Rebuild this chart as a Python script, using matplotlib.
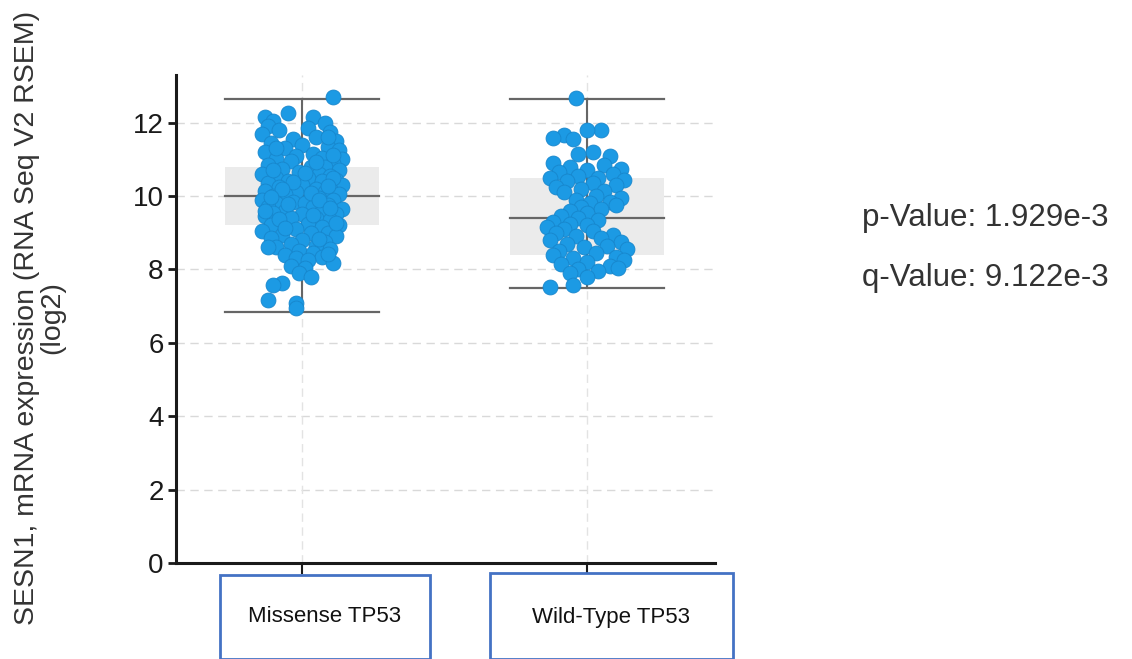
import matplotlib
matplotlib.use("Agg")
import matplotlib.pyplot as plt
from matplotlib.patches import Rectangle

plt.rcParams['font.family'] = ['Liberation Sans', 'DejaVu Sans']

categories = ["Missense TP53", "Wild-Type TP53"]

missense_values = [
    12.70, 12.26, 12.15, 12.15, 12.05, 12.00,
    11.90, 11.85, 11.80, 11.75, 11.70, 11.60, 11.55, 11.50,
    11.45, 11.40, 11.35, 11.30, 11.25, 11.20, 11.15, 11.10, 11.05, 11.00, 11.00,
    10.95, 10.90, 10.85, 10.80, 10.80, 10.75, 10.70, 10.65, 10.60, 10.60, 10.55, 10.50, 10.50,
    10.45, 10.40, 10.40, 10.35, 10.30, 10.30, 10.25, 10.20, 10.20, 10.15, 10.10, 10.10, 10.05, 10.05, 10.00, 10.00,
    9.95, 9.90, 9.90, 9.85, 9.80, 9.80, 9.75, 9.70, 9.70, 9.65, 9.60, 9.60, 9.55, 9.50, 9.50,
    9.45, 9.40, 9.40, 9.35, 9.30, 9.25, 9.20, 9.20, 9.15, 9.10, 9.05, 9.00, 9.00,
    8.95, 8.90, 8.85, 8.80, 8.75, 8.70, 8.65, 8.60, 8.55, 8.50,
    8.45, 8.40, 8.35, 8.30, 8.25, 8.17, 8.10, 8.05,
    7.90, 7.80, 7.63, 7.57, 7.17, 7.08, 6.95,
    10.72, 10.62, 10.48, 10.38, 10.28, 10.18, 10.08, 9.98, 9.88, 9.78, 9.68, 9.58, 9.48, 9.38, 9.28,
    11.62, 11.32, 11.12, 10.92, 9.12, 8.82, 8.62, 8.42,
]
missense_jitter = [
    0.11, -0.05, -0.13, 0.04, -0.10, 0.08,
    -0.12, 0.02, -0.08, 0.10, -0.14, 0.05, -0.03, 0.12,
    -0.11, 0.00, 0.09, -0.06, 0.13, -0.13, 0.04, -0.02, 0.07, -0.09, 0.14,
    -0.04, 0.11, -0.12, 0.03, 0.08, -0.07, 0.13, -0.01, -0.14, 0.06, 0.10, -0.09, 0.02,
    0.12, -0.05, 0.07, -0.12, 0.00, 0.14, -0.08, 0.05, 0.10, -0.13, -0.02, 0.08, -0.06, 0.13, 0.03, -0.10,
    0.06, -0.14, 0.11, -0.03, 0.01, -0.09, 0.09, -0.12, 0.04, 0.14, -0.06, 0.07, -0.10, 0.00, 0.12,
    -0.13, 0.05, -0.04, 0.10, -0.08, 0.02, 0.13, -0.11, 0.07, -0.02, -0.14, 0.09, 0.03,
    -0.07, 0.12, -0.11, 0.00, 0.08, -0.04, 0.05, -0.09, 0.10, -0.01,
    0.04, -0.06, 0.07, -0.02, 0.02, 0.11, -0.04, 0.01,
    -0.01, 0.03, -0.07, -0.10, -0.12, -0.02, -0.02,
    -0.10, 0.01, 0.11, -0.03, 0.09, -0.07, 0.03, -0.11, 0.06, -0.05, 0.10, -0.13, 0.04, -0.08, 0.12,
    0.09, -0.09, 0.11, 0.05, -0.06, 0.06, -0.12, 0.09,
]

wildtype_values = [
    12.67,
    11.80, 11.80, 11.66, 11.58, 11.55,
    11.20, 11.15, 11.10,
    10.90, 10.85, 10.80, 10.75, 10.70, 10.65, 10.60, 10.55, 10.50, 10.50, 10.45, 10.40, 10.35, 10.30, 10.25, 10.20, 10.15, 10.10,
    10.00, 9.95, 9.90, 9.85, 9.80, 9.75, 9.70, 9.65, 9.60, 9.55,
    9.45, 9.40, 9.35, 9.30, 9.25, 9.20, 9.15, 9.10, 9.05, 9.00, 8.95, 8.90, 8.85, 8.80, 8.75, 8.70,
    8.65, 8.60, 8.55, 8.50, 8.45, 8.40, 8.35, 8.30, 8.25, 8.20, 8.15, 8.10, 8.05, 8.00, 7.95,
    7.90, 7.80, 7.57, 7.52,
]
wildtype_jitter = [
    -0.04,
    0.05, 0.00, -0.08, -0.12, -0.05,
    0.02, -0.03, 0.08,
    -0.12, 0.06, -0.06, 0.12, 0.00, -0.10, 0.09, -0.03, 0.04, -0.13, 0.13, -0.07, 0.02, 0.10, -0.11, -0.02, 0.06, -0.08,
    0.03, 0.12, -0.04, 0.08, 0.01, 0.10, -0.02, 0.05, -0.06, 0.00,
    -0.09, -0.03, 0.04, -0.12, -0.06, 0.00, -0.14, -0.08, 0.02, -0.11, 0.09, -0.04, 0.05, -0.13, 0.12, -0.07,
    0.07, -0.01, 0.14, -0.10, 0.03, -0.12, 0.10, -0.05, 0.13, 0.00, -0.09, 0.08, 0.11, -0.03, 0.04,
    -0.06, 0.00, -0.05, -0.13,
]

box_q1 = [9.2, 8.4]
box_median = [10.0, 9.4]
box_q3 = [10.8, 10.5]
whisker_low = [6.85, 7.5]
whisker_high = [12.65, 12.65]

yticks = [0, 2, 4, 6, 8, 10, 12]
p_text = "p-Value: 1.929e-3"
q_text = "q-Value: 9.122e-3"
ylabel = "SESN1, mRNA expression (RNA Seq V2 RSEM)\n(log2)"

W, H = 1132, 659
fig = plt.figure(figsize=(W / 100, H / 100), dpi=100)
ax = fig.add_axes([176 / W, 1 - 563 / H, (715 - 176) / W, (563 - 75) / H])

ax.set_xlim(-0.442, 1.449)
ax.set_ylim(0, 13.3)

# grid
for yt in yticks:
    ax.axhline(yt, color='#d9d9d9', lw=1, ls=(0, (6, 4)), zorder=0)
for i in range(len(categories)):
    ax.axvline(i, color='#e3e3e3', lw=1, ls=(0, (6, 4)), zorder=0)

hw = 0.27
point_color = '#1c9ae4'
for i in range(len(categories)):
    ax.add_patch(Rectangle((i - hw, box_q1[i]), 2 * hw, box_q3[i] - box_q1[i],
                           facecolor='#ebebeb', edgecolor='none', zorder=1))
    ax.plot([i, i], [whisker_low[i], whisker_high[i]], color='#666666', lw=1.5, zorder=2)
    for yv in (whisker_low[i], box_median[i], whisker_high[i]):
        ax.plot([i - hw, i + hw], [yv, yv], color='#666666', lw=1.6, zorder=2)

ax.scatter([0 + j for j in missense_jitter], missense_values, s=115, color=point_color,
           edgecolors='#1786cc', linewidths=0.6, zorder=3)
ax.scatter([1 + j for j in wildtype_jitter], wildtype_values, s=115, color=point_color,
           edgecolors='#1786cc', linewidths=0.6, zorder=3)

for s in ('top', 'right'):
    ax.spines[s].set_visible(False)
for s in ('left', 'bottom'):
    ax.spines[s].set_linewidth(2.2)
    ax.spines[s].set_color('#1a1a1a')

ax.set_yticks(yticks)
ax.set_yticklabels([str(v) for v in yticks], fontsize=20, color='#1a1a1a')
ax.tick_params(axis='y', length=6, width=2, color='#1a1a1a', pad=3)
ax.set_xticks(range(len(categories)))
ax.set_xticklabels([])
ax.tick_params(axis='x', length=8, width=1.5, color='#1a1a1a')

fig.text(40 / W, 1 - 318 / H, ylabel, rotation=90, ha='center', va='center',
         fontsize=20.5, color='#333333', linespacing=0.95)

fig.text(862 / W, 1 - 218 / H, p_text, ha='left', va='center', fontsize=22.5, color='#333333')
fig.text(862 / W, 1 - 278 / H, q_text, ha='left', va='center', fontsize=22.5, color='#333333')

# label boxes below axis
label_boxes = [(220, 430, 575), (490, 733, 573)]
for (x0, x1, y0), lab in zip(label_boxes, categories):
    fig.patches.append(Rectangle((x0 / W, 0), (x1 - x0) / W, 1 - y0 / H, transform=fig.transFigure,
                                 facecolor='white', edgecolor='#4472c4', lw=2, zorder=5))
    fig.text((x0 + x1) / 2 / W, 1 - 617 / H, lab, ha='center', va='center', fontsize=16,
             color='#111111', zorder=6)

fig.savefig("out.png", dpi=100)
